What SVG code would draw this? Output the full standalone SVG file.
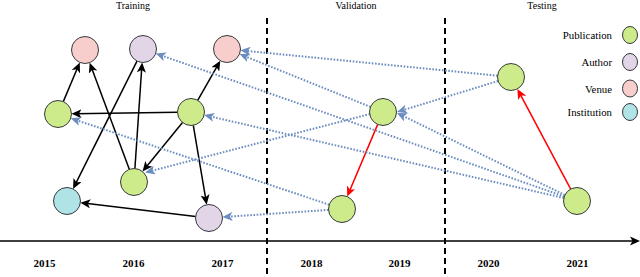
<svg xmlns="http://www.w3.org/2000/svg" width="640" height="277" viewBox="0 0 640 277">
<defs>
<style>
.t{font-family:"Liberation Serif","Times New Roman",serif;fill:#000}
.title{font-size:10px;text-anchor:middle}
.yr{font-size:11px;font-weight:bold;text-anchor:middle}
.lg{font-size:10.8px;text-anchor:end}
.n{stroke:#36393d;stroke-width:1}
.pub{fill:#cdeb8b}.aut{fill:#e1d5e7}.ven{fill:#f8cecc}.ins{fill:#b0e3e6}
.k{stroke:#000;stroke-width:1.5;fill:none;marker-end:url(#ak)}
.r{stroke:#ff0000;stroke-width:1.5;fill:none;marker-end:url(#ar)}
.b{stroke:#6c8ebf;stroke-width:2;stroke-dasharray:1.6 1.6;fill:none;marker-end:url(#ab)}
.sep{stroke:#000;stroke-width:2;stroke-dasharray:6 4}
</style>
<marker id="ak" markerUnits="userSpaceOnUse" viewBox="0 0 10 9" refX="7" refY="4.5" markerWidth="10" markerHeight="9" orient="auto"><path d="M0,0 L10,4.5 L0,9 L2.5,4.5 Z" fill="#000"/></marker>
<marker id="ar" markerUnits="userSpaceOnUse" viewBox="0 0 10 9" refX="7" refY="4.5" markerWidth="10" markerHeight="9" orient="auto"><path d="M0,0 L10,4.5 L0,9 L2.5,4.5 Z" fill="#ff0000"/></marker>
<marker id="ab" markerUnits="userSpaceOnUse" viewBox="0 0 10 9" refX="7" refY="4.5" markerWidth="10" markerHeight="9" orient="auto"><path d="M0,0 L10,4.5 L0,9 L2.5,4.5 Z" fill="#6c8ebf"/></marker>
</defs>
<rect width="640" height="277" fill="#fff"/>

<g id="timeline">
<line x1="0" y1="241" x2="633" y2="241" stroke="#000" stroke-width="1.3"/>
<path d="M640,241 L630,236.5 L632.5,241 L630,245.5 Z" fill="#000"/>
<line class="sep" x1="267" y1="18" x2="267" y2="277"/>
<line class="sep" x1="445" y1="18" x2="445" y2="277"/>
<text class="t title" x="133" y="8.5">Training</text>
<text class="t title" x="356" y="8.5">Validation</text>
<text class="t title" x="542" y="8.5">Testing</text>
<text class="t yr" x="44.5" y="266.5">2015</text>
<text class="t yr" x="133.5" y="266.5">2016</text>
<text class="t yr" x="222.5" y="266.5">2017</text>
<text class="t yr" x="311.5" y="266.5">2018</text>
<text class="t yr" x="399.5" y="266.5">2019</text>
<text class="t yr" x="488.5" y="266.5">2020</text>
<text class="t yr" x="577.5" y="266.5">2021</text>
</g>

<g id="connectors">
<line class="k" x1="63.3" y1="101.6" x2="78.6" y2="65.2"/>
<line class="k" x1="129.3" y1="169.3" x2="90.7" y2="65.5"/>
<line class="k" x1="134.9" y1="168.5" x2="141.9" y2="65.5"/>
<line class="k" x1="137" y1="61.1" x2="74.4" y2="186.2"/>
<line class="k" x1="197.7" y1="100.3" x2="218.8" y2="63.3"/>
<line class="k" x1="177.5" y1="112.2" x2="74.5" y2="113.8"/>
<line class="k" x1="182.5" y1="122.5" x2="144.4" y2="169.2"/>
<line class="k" x1="193.3" y1="125.3" x2="206.2" y2="201.7"/>
<line class="k" x1="195.6" y1="216.4" x2="83.4" y2="203"/>
<line class="r" x1="377.7" y1="124.4" x2="348.4" y2="193.8"/>
<line class="r" x1="570.7" y1="189.1" x2="518.8" y2="91.6"/>
<line class="b" x1="497.6" y1="75.7" x2="243.4" y2="50.6"/>
<line class="b" x1="370.5" y1="106.9" x2="242.3" y2="55.2"/>
<line class="b" x1="564.3" y1="196.5" x2="158.6" y2="54.5"/>
<line class="b" x1="563.8" y1="198" x2="207.1" y2="115.7"/>
<line class="b" x1="370" y1="114" x2="148" y2="171.8"/>
<line class="b" x1="498.1" y1="81" x2="399.9" y2="111.1"/>
<line class="b" x1="564.9" y1="195.1" x2="399.7" y2="114.3"/>
<line class="b" x1="329.2" y1="204.7" x2="73.6" y2="119.2"/>
<line class="b" x1="328.5" y1="209.9" x2="225.5" y2="216.9"/>
</g>

<g id="venue1"><circle class="n ven" cx="85" cy="50" r="13.5"/></g>
<g id="author1"><circle class="n aut" cx="143" cy="49" r="13.5"/></g>
<g id="venue2"><circle class="n ven" cx="227" cy="49" r="13.5"/></g>
<g id="pubA"><circle class="n pub" cx="58" cy="114" r="13.5"/></g>
<g id="pubB"><circle class="n pub" cx="191" cy="112" r="13.5"/></g>
<g id="pubC"><circle class="n pub" cx="134" cy="182" r="13.5"/></g>
<g id="institution"><circle class="n ins" cx="67" cy="201" r="13.5"/></g>
<g id="author2"><circle class="n aut" cx="209" cy="218" r="13.5"/></g>
<g id="pubD"><circle class="n pub" cx="383" cy="112" r="13.5"/></g>
<g id="pubE"><circle class="n pub" cx="342" cy="209" r="13.5"/></g>
<g id="pubF"><circle class="n pub" cx="511" cy="77" r="13.5"/></g>
<g id="pubG"><circle class="n pub" cx="577" cy="201" r="13.5"/></g>

<g id="legend">
<text class="t lg" x="612" y="39">Publication</text>
<ellipse class="n pub" cx="630" cy="35" rx="7.5" ry="8.5"/>
<text class="t lg" x="612" y="66">Author</text>
<ellipse class="n aut" cx="630" cy="62" rx="7.5" ry="8.5"/>
<text class="t lg" x="612" y="92.5">Venue</text>
<ellipse class="n ven" cx="630" cy="88.5" rx="7.5" ry="8.5"/>
<text class="t lg" x="612" y="116">Institution</text>
<ellipse class="n ins" cx="630" cy="112" rx="7.5" ry="8.5"/>
</g>
</svg>
